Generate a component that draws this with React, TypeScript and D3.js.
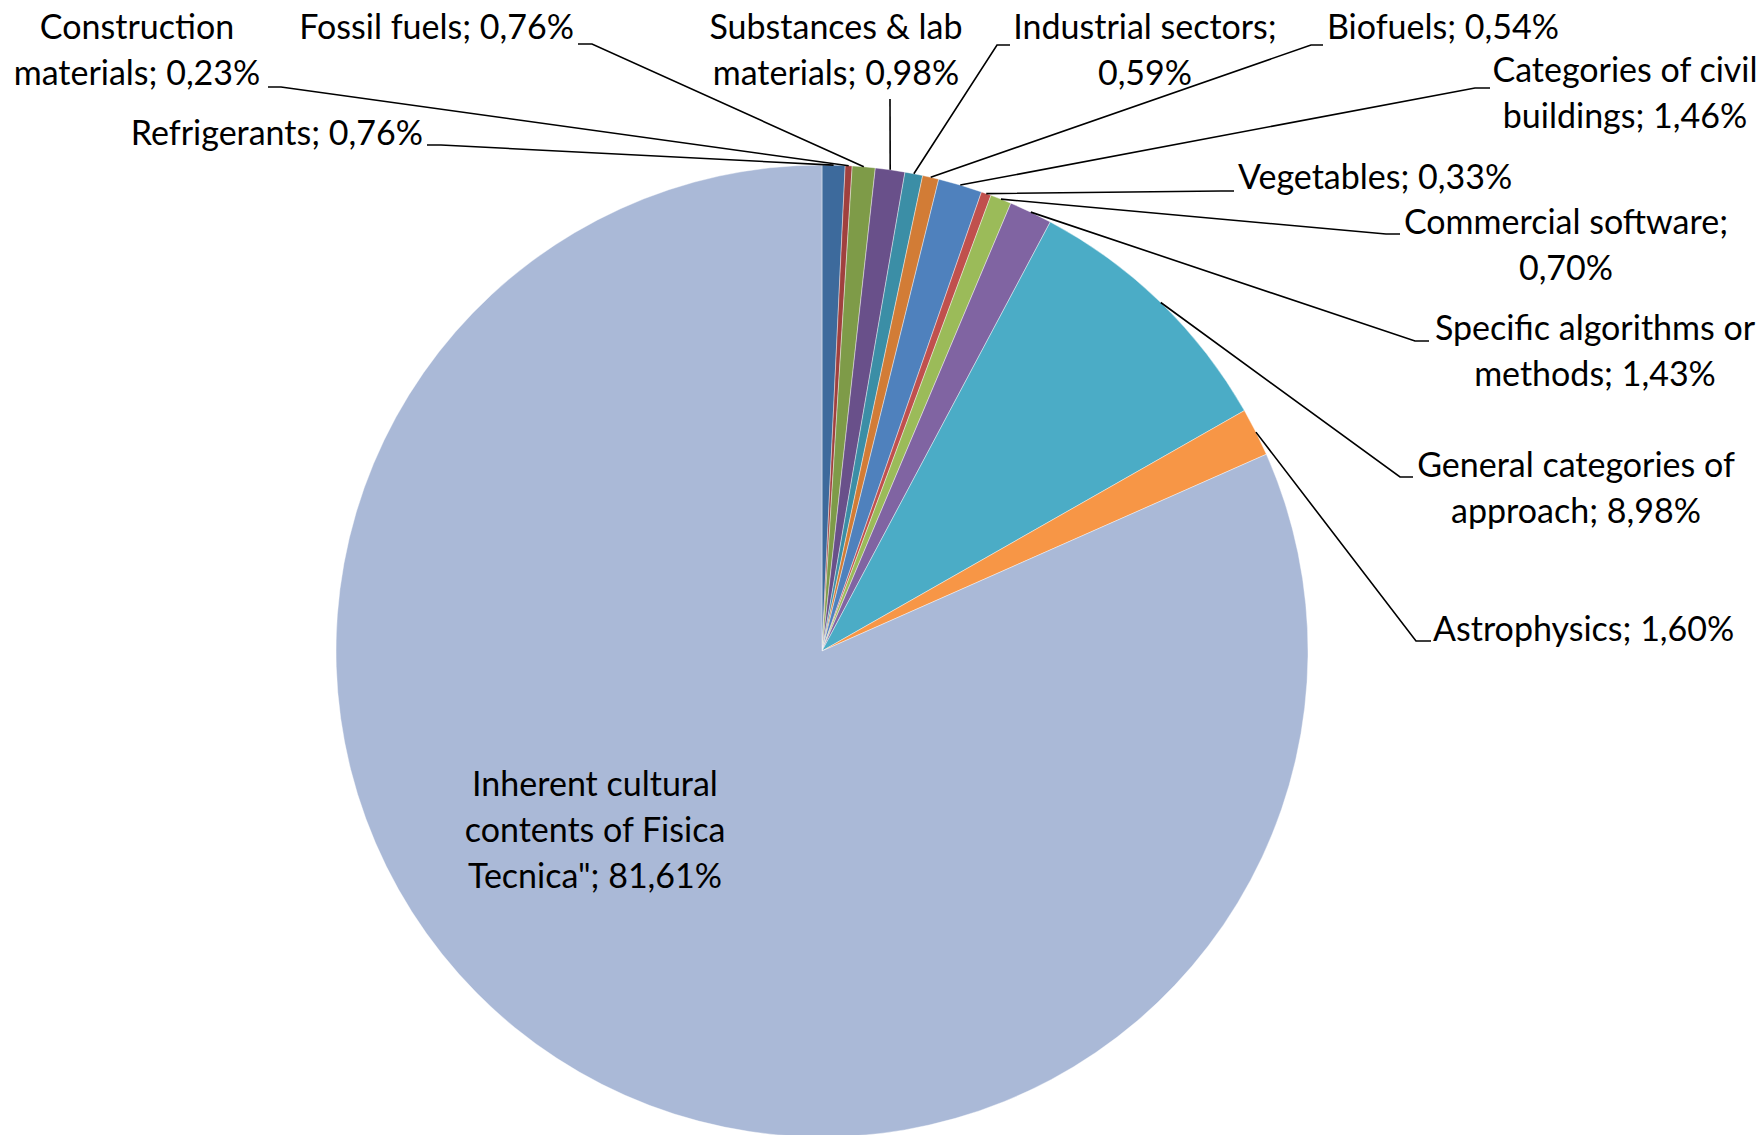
import React from "react";
import * as d3 from "d3";

const categories = [
  "Refrigerants",
  "Construction materials",
  "Fossil fuels",
  "Substances & lab materials",
  "Industrial sectors",
  "Biofuels",
  "Categories of civil buildings",
  "Vegetables",
  "Commercial software",
  "Specific algorithms or methods",
  "General categories of approach",
  "Astrophysics",
  "Inherent cultural contents of Fisica Tecnica\"",
];

const values = [0.76, 0.23, 0.76, 0.98, 0.59, 0.54, 1.46, 0.33, 0.7, 1.43, 8.98, 1.6, 81.61];

const colors = [
  "#3D6A9C",
  "#A0403E",
  "#7E9B48",
  "#69508A",
  "#3B8EA6",
  "#D27C36",
  "#4F81BD",
  "#C0504D",
  "#9BBB59",
  "#8064A2",
  "#4BACC6",
  "#F79646",
  "#AAB9D7",
];

// label layout: anchor position (first baseline), word breaks, leader attach point & stub
type Layout = {
  x: number;
  y: number;
  anchor: "start" | "middle" | "end";
  breaks: number[];
  lx?: number;
  ly?: number;
  stub?: number;
};

const layout: Layout[] = [
  { x: 423, y: 145, anchor: "end", breaks: [], lx: 427, ly: 145, stub: 14 },
  { x: 137, y: 39, anchor: "middle", breaks: [1], lx: 268, ly: 87, stub: 13 },
  { x: 574, y: 39, anchor: "end", breaks: [], lx: 578, ly: 44, stub: 14 },
  { x: 836, y: 39, anchor: "middle", breaks: [3], lx: 890, ly: 99, stub: 0 },
  { x: 1145, y: 39, anchor: "middle", breaks: [2], lx: 1010, ly: 45, stub: -13 },
  { x: 1327, y: 39, anchor: "start", breaks: [], lx: 1323, ly: 45, stub: -12 },
  { x: 1625, y: 82, anchor: "middle", breaks: [3], lx: 1490, ly: 88, stub: -15 },
  { x: 1238, y: 189, anchor: "start", breaks: [], lx: 1234, ly: 191, stub: -13 },
  { x: 1566, y: 234, anchor: "middle", breaks: [2], lx: 1400, ly: 234, stub: -14 },
  { x: 1595, y: 340, anchor: "middle", breaks: [3], lx: 1429, ly: 341, stub: -14 },
  { x: 1576, y: 477, anchor: "middle", breaks: [3], lx: 1413, ly: 477, stub: -13 },
  { x: 1433, y: 641, anchor: "start", breaks: [], lx: 1431, ly: 641, stub: -15 },
  { x: 595, y: 796, anchor: "middle", breaks: [2, 5] },
];

const W = 1764;
const H = 1135;
const cx = 822;
const cy = 651;
const R = 486;
const FONT = 34;
const LINE = 46;

function fmt(v: number) {
  return v.toFixed(2).replace(".", ",") + "%";
}

function splitLines(text: string, breaks: number[]) {
  const words = text.split(" ");
  const lines: string[] = [];
  let prev = 0;
  for (const b of breaks) {
    lines.push(words.slice(prev, b).join(" "));
    prev = b;
  }
  lines.push(words.slice(prev).join(" "));
  return lines;
}

export default function App() {
  const pie = d3
    .pie<number>()
    .sort(null)
    .value((d) => d)
    .startAngle(0)
    .endAngle(2 * Math.PI);
  const arcs = pie(values);
  const arc = d3.arc<d3.PieArcDatum<number>>().innerRadius(0).outerRadius(R);
  const line = d3.line();

  return (
    <svg
      width={W}
      height={H}
      style={{ position: "absolute", left: 0, top: 0, background: "#fff" }}
      fontFamily="Lato, 'Open Sans', sans-serif"
    >
      <rect width={W} height={H} fill="#fff" />
      <g transform={`translate(${cx},${cy})`}>
        {arcs.map((a, i) => (
          <path key={i} d={arc(a) || ""} fill={colors[i]} stroke="#fff" strokeOpacity={0.5} strokeWidth={0.8} />
        ))}
      </g>
      {arcs.map((a, i) => {
        const L = layout[i];
        if (L.lx === undefined) return null;
        const mid = (a.startAngle + a.endAngle) / 2;
        const px = cx + R * Math.sin(mid);
        const py = cy - R * Math.cos(mid);
        const pts: [number, number][] = [
          [L.lx, L.ly!],
          [L.lx + (L.stub || 0), L.ly!],
          [px, py],
        ];
        return <path key={"l" + i} d={line(pts) || ""} fill="none" stroke="#000" strokeWidth={1.6} />;
      })}
      {categories.map((c, i) => {
        const L = layout[i];
        const text = `${c}; ${fmt(values[i])}`;
        const lines = splitLines(text, L.breaks);
        return (
          <text key={"t" + i} x={L.x} y={L.y} textAnchor={L.anchor} fontSize={FONT} fill="#000">
            {lines.map((ln, j) => (
              <tspan key={j} x={L.x} y={L.y + j * LINE}>
                {ln}
              </tspan>
            ))}
          </text>
        );
      })}
    </svg>
  );
}
